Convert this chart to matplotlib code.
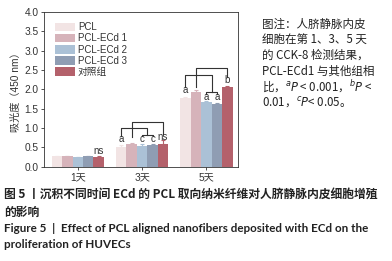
import numpy as np
import matplotlib
matplotlib.use('Agg')
import matplotlib.pyplot as plt

plt.rcParams['font.family'] = ['Liberation Sans', 'Noto Sans CJK SC', 'DejaVu Sans']

# --- datos ---
dias = ['1天', '3天', '5天']
grupos = ['PCL', 'PCL-ECd 1', 'PCL-ECd 2', 'PCL-ECd 3', '对照组']
colores = ['#f2e4e4', '#d6b3ba', '#abc1d6', '#8f9db3', '#b4616b']

valores = [
    [0.28, 0.28, 0.25, 0.28, 0.25],   # 1天
    [0.52, 0.59, 0.53, 0.57, 0.58],   # 3天
    [1.78, 1.92, 1.68, 1.63, 2.06],   # 5天
]
errores = [
    [0.01, 0.01, 0.01, 0.01, 0.02],
    [0.03, 0.02, 0.05, 0.02, 0.10],
    [0.03, 0.07, 0.03, 0.03, 0.02],
]

fig = plt.figure(figsize=(3.92, 2.61), dpi=100)
ax = fig.add_axes([0.112, 0.361, 0.495, 0.593])

x = np.arange(len(dias))
ancho = 0.163
for j, g in enumerate(grupos):
    pos = x + (j - 2) * ancho
    alturas = [valores[i][j] for i in range(len(dias))]
    err = [errores[i][j] for i in range(len(dias))]
    ax.bar(pos, alturas, width=ancho, color=colores[j], label=g, zorder=2)
    ax.errorbar(pos, alturas, yerr=[np.zeros(len(err)), err], fmt='none',
                ecolor=colores[j], elinewidth=0.8, capsize=1.5, capthick=0.8, zorder=3)

ax.set_xlim(-0.526, 2.49)
ax.set_ylim(0, 4.0)
ax.set_yticks(np.arange(0, 4.01, 0.5))
ax.set_yticklabels([f'{v:.1f}' for v in np.arange(0, 4.01, 0.5)])
ax.set_xticks(x)
ax.set_xticklabels(dias)
ax.tick_params(labelsize=7.3, length=2.5, width=0.6, pad=1.5, colors='#333333')
for s in ax.spines.values():
    s.set_linewidth(0.6)
    s.set_color('#333333')
ax.set_ylabel('吸光度（450 nm）', fontsize=7.3, labelpad=2, color='#333333')

# --- corchetes de significancia ---
lw = 0.8
kc = '#333333'
txt = dict(ha='center', va='bottom', fontsize=7, color='#333333')


def corchetes(i, niveles, etiquetas, bases):
    p = [x[i] + (j - 2) * ancho for j in range(5)]
    top, mid, low = niveles
    mid_c = (p[2] + p[3]) / 2
    # ECd1 -> control
    ax.plot([p[1], p[1], p[4], p[4]], [bases[1], top, top, bases[4]], color=kc, lw=lw, zorder=4)
    # PCL -> (ECd2, ECd3)
    ax.plot([p[0], p[0], mid_c, mid_c], [bases[0], mid, mid, low], color=kc, lw=lw, zorder=4)
    ax.plot([p[2], p[2], p[3], p[3]], [bases[2], low, low, bases[3]], color=kc, lw=lw, zorder=4)
    ax.text(p[0], bases[0] - 0.2, etiquetas[0], **txt)
    ax.text(p[2], bases[2] - 0.2, etiquetas[1], **txt)
    ax.text(p[3], bases[3] - 0.2, etiquetas[1], **txt)
    ax.text(p[4], bases[4] - 0.2, etiquetas[2], **txt)


corchetes(1, (1.16, 0.99, 0.83), ['a', 'c', 'ns'], [0.80, 0.78, 0.80, 0.80, 0.84])
corchetes(2, (2.54, 2.36, 1.93), ['a', 'a', 'b'], [2.05, 2.05, 1.87, 1.87, 2.32])
ax.text(x[0] + 2 * ancho, 0.29, 'ns', **txt)

leg = ax.legend(loc='upper left', fontsize=7, frameon=False, handlelength=2.1,
                handleheight=1.0, labelspacing=0.12, handletextpad=0.3,
                borderaxespad=0.5, bbox_to_anchor=(0.01, 0.99))
for t in leg.get_texts():
    t.set_color('#333333')

# --- nota lateral ---
nota = ['图注：人脐静脉内皮',
        '细胞在第 1、3、5 天',
        '的 CCK-8 检测结果，',
        'PCL-ECd1 与其他组相',
        r'比，$^{a}\mathit{P}$ < 0.001，$^{b}\mathit{P}$ <',
        r'0.01，$^{c}\mathit{P}$< 0.05。']
for k, linea in enumerate(nota):
    fig.text(262 / 392, 1 - (24 + k * 15.7) / 261, linea, fontsize=8.3,
             family=['Noto Sans CJK SC', 'DejaVu Sans'], va='center', ha='left',
             color='#222222')

# --- pie de figura ---
fig.text(4 / 392, 1 - 194 / 261, '图 5 丨沉积不同时间 ECd 的 PCL 取向纳米纤维对人脐静脉内皮细胞增殖',
         fontsize=8.5, fontweight='bold', family=['Noto Sans CJK SC'], va='center',
         color='#222222')
fig.text(4 / 392, 1 - 212 / 261, '的影响', fontsize=8.5, fontweight='bold',
         family=['Noto Sans CJK SC'], va='center', color='#222222')
fig.text(4 / 392, 1 - 228 / 261,
         'Figure 5  |  Effect of PCL aligned nanofibers deposited with ECd on the',
         fontsize=8.4, fontweight='bold', family=['Lato', 'DejaVu Sans'], va='center',
         color='#222222')
fig.text(4 / 392, 1 - 244 / 261, 'proliferation of HUVECs', fontsize=8.4,
         fontweight='bold', family=['Lato', 'DejaVu Sans'], va='center', color='#222222')

fig.savefig('out.png', dpi=100)
